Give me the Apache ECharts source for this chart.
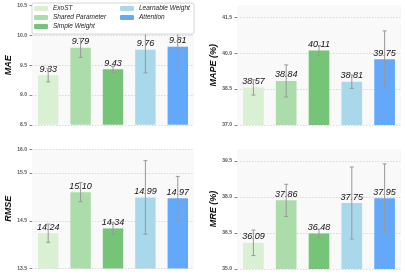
<!DOCTYPE html>
<html><head><meta charset="utf-8">
<script src="https://cdn.jsdelivr.net/npm/echarts@6/dist/echarts.min.js"></script>
<style>html,body{margin:0;padding:0;background:#fff}#c{width:405px;height:275px}</style>
</head><body><div id="c"></div>
<script>
const methods = ['ExoST', 'Shared Parameter', 'Simple Weight', 'Learnable Weight', 'Attention'];
const maeVals = [9.33, 9.79, 9.43, 9.76, 9.81];
const maeErr = [0.11, 0.16, 0.05, 0.39, 0.36];
const mapeVals = [38.57, 38.84, 40.11, 38.81, 39.75];
const mapeErr = [0.32, 0.67, 0.21, 0.28, 1.18];
const rmseVals = [14.24, 15.10, 14.34, 14.99, 14.97];
const rmseErr = [0.19, 0.20, 0.12, 0.77, 0.46];
const mreVals = [36.09, 37.86, 36.48, 37.75, 37.95];
const mreErr = [0.53, 0.67, 0.18, 1.50, 1.43];
const maeTicks = [8.5, 9.0, 9.5, 10.0, 10.5];
const mapeTicks = [37.0, 38.5, 40.0, 41.5];
const rmseTicks = [13.5, 14.5, 15.5, 16.0];
const mreTicks = [35.0, 36.5, 38.0, 39.5];
const maeRange = [8.5, 10.5];
const mapeRange = [37, 42];
const rmseRange = [13.5, 16];
const mreRange = [35, 40];

const colors = ['#d9f0d2', '#acdcaa', '#76c477', '#a8d8ea', '#64a8fa'];
const panels = [
  {name: 'MAE', vals: maeVals, err: maeErr, ticks: maeTicks, range: maeRange},
  {name: 'MAPE (%)', vals: mapeVals, err: mapeErr, ticks: mapeTicks, range: mapeRange},
  {name: 'RMSE', vals: rmseVals, err: rmseErr, ticks: rmseTicks, range: rmseRange},
  {name: 'MRE (%)', vals: mreVals, err: mreErr, ticks: mreTicks, range: mreRange}
];
const grids = [
  {left: 32, top: 5.5, width: 162, height: 119.3},
  {left: 237, top: 5.3, width: 164, height: 119.7},
  {left: 32, top: 149.2, width: 162, height: 119.3},
  {left: 237, top: 149, width: 164, height: 120}
];
const font = 'Liberation Sans';
const grid = [], xAxis = [], yAxis = [], series = [];
panels.forEach((p, pi) => {
  grid.push(Object.assign({show: true, backgroundColor: '#f9f9f9', borderWidth: 0, outerBoundsMode: 'none'}, grids[pi]));
  xAxis.push({type: 'category', gridIndex: pi, data: methods, axisLine: {show: false}, axisTick: {show: false}, axisLabel: {show: false}, splitLine: {show: false}});
  yAxis.push({
    type: 'value', gridIndex: pi, min: p.range[0], max: p.range[1],
    name: p.name, nameLocation: 'middle', nameGap: 15,
    nameTextStyle: {fontFamily: font, fontStyle: 'italic', fontWeight: 'bold', fontSize: 9, color: '#111'},
    axisLine: {show: false},
    axisTick: {show: true, length: 2.5, customValues: p.ticks, lineStyle: {color: '#666', width: 0.8}},
    axisLabel: {customValues: p.ticks, margin: 5, fontSize: 5, fontWeight: 'bold', color: '#555', fontFamily: font, formatter: v => v.toFixed(1)},
    splitLine: {show: true, lineStyle: {color: '#cfcfcf', type: [1.5, 1.5], width: 0.8}}
  });
  methods.forEach((m, mi) => {
    const d = methods.map((_, k) => k === mi ? p.vals[k] : '-');
    series.push({
      type: 'bar', name: m, xAxisIndex: pi, yAxisIndex: pi, stack: 's' + pi,
      barWidth: '63%', data: d, z: 2,
      itemStyle: {color: colors[mi]},
      label: {show: true, position: 'top', distance: 1.5, fontFamily: font, fontStyle: 'italic', fontSize: 9, color: '#111',
        formatter: o => o.value.toFixed(2)}
    });
  });
  series.push({
    type: 'custom', xAxisIndex: pi, yAxisIndex: pi, z: 5, silent: true,
    data: p.vals.map((v, k) => [k, v, p.err[k]]),
    renderItem: (params, api) => {
      const i = api.value(0), v = api.value(1), e = api.value(2);
      const t = api.coord([i, v + e]), b = api.coord([i, v - e]);
      const st = {stroke: '#999', lineWidth: 1};
      return {type: 'group', children: [
        {type: 'line', shape: {x1: t[0], y1: t[1], x2: b[0], y2: b[1]}, style: st},
        {type: 'line', shape: {x1: t[0] - 2, y1: t[1], x2: t[0] + 2, y2: t[1]}, style: st},
        {type: 'line', shape: {x1: b[0] - 2, y1: b[1], x2: b[0] + 2, y2: b[1]}, style: st}
      ]};
    }
  });
});
const legendBase = {orient: 'vertical', padding: 0, itemWidth: 14, itemHeight: 5, itemGap: 2, z: 60, top: 5,
  textStyle: {fontFamily: font, fontStyle: 'italic', fontSize: 6.5, color: '#222'}};
const option = {
  animation: false,
  grid, xAxis, yAxis, series,
  legend: [
    Object.assign({left: 34, data: methods.slice(0, 3)}, legendBase),
    Object.assign({left: 120, data: methods.slice(3)}, legendBase)
  ],
  graphic: [{type: 'rect', z: 50, shape: {x: 32, y: 3, width: 162, height: 31, r: 2},
    style: {fill: '#fff', stroke: '#cccccc', lineWidth: 0.8}}]
};
const chart = echarts.init(document.getElementById('c'), null, {renderer: 'canvas'});
chart.setOption(option);
</script></body></html>
